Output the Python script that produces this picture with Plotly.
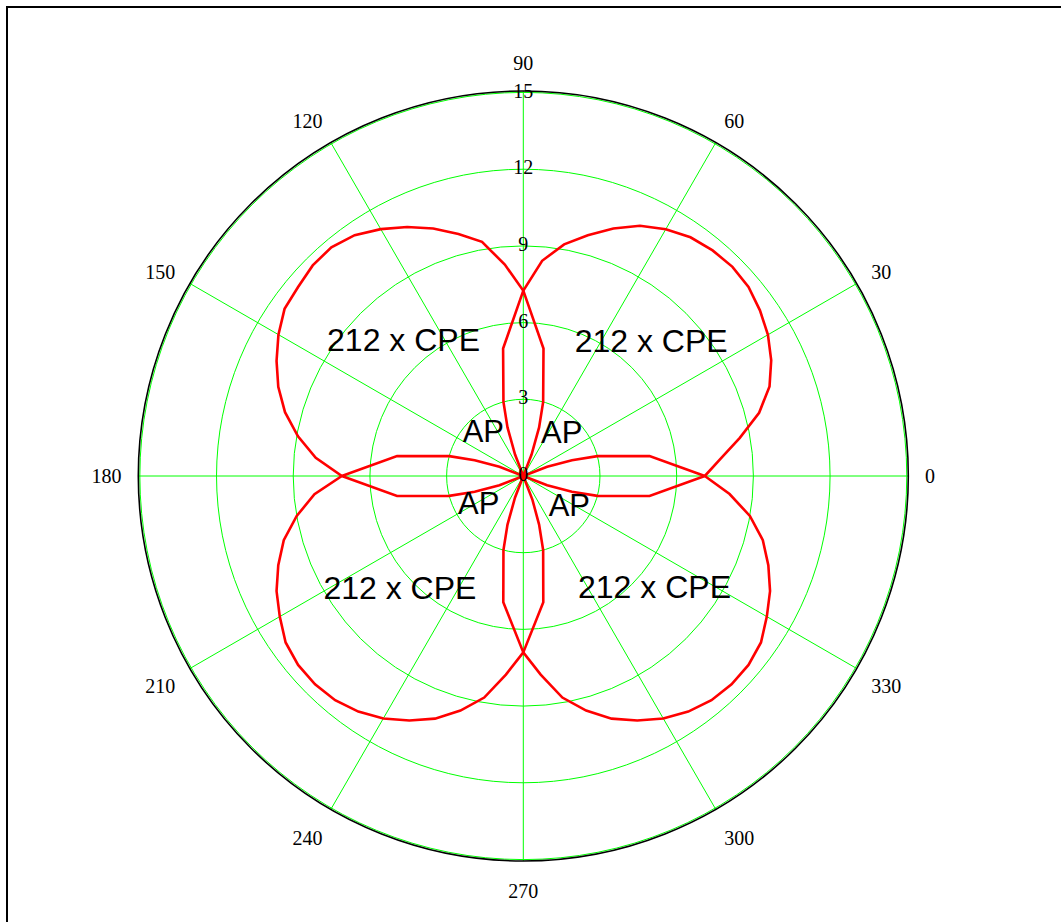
import plotly.graph_objects as go

# CPE coverage pattern, sampled every 5 degrees
cpe_theta = list(range(0, 365, 5))
cpe_r = [
    7.1, 7.75, 8.6, 9.55, 10.25, 10.7, 11.05, 11.3, 11.5, 11.57,
    11.52, 11.4, 11.15, 10.8, 10.3, 9.75, 9.2, 8.45, 7.25,
    8.3, 9.3, 9.8, 10.3, 10.75, 11.15, 11.5, 11.68, 11.65,
    11.5, 11.4, 11.06, 10.65, 10.2, 9.65, 8.95, 8.15, 7.1,
    8.2, 9.0, 9.7, 10.2, 10.65, 11.0, 11.35, 11.5, 11.52,
    11.45, 11.25, 10.95, 10.55, 10.1, 9.5, 8.8, 7.8, 6.9,
    7.8, 8.8, 9.5, 10.1, 10.55, 10.95, 11.25, 11.45, 11.52,
    11.5, 11.35, 11.0, 10.65, 10.2, 9.7, 9.0, 8.1, 7.1,
]

# AP beam pattern (four narrow beams along the axes)
ap_theta = [
    0, 9, 15, 18, 21, 24,
    66, 69, 72, 75, 81, 90, 99, 105, 108, 111, 114,
    156, 159, 162, 165, 171, 180, 189, 195, 198, 201, 204,
    246, 249, 252, 255, 261, 270, 279, 285, 288, 291, 294,
    336, 339, 342, 345, 351, 360,
]
ap_r = [
    7.1, 5.0, 3.0, 2.0, 1.0, 0,
    0, 0.9, 2.0, 3.0, 5.05, 7.25, 5.05, 3.0, 2.0, 0.9, 0,
    0, 1.0, 2.0, 3.0, 5.0, 7.1, 5.0, 3.0, 2.0, 1.0, 0,
    0, 0.9, 2.0, 3.0, 5.0, 6.9, 5.0, 3.0, 2.0, 1.0, 0,
    0, 1.0, 2.0, 3.0, 5.0, 7.1,
]

# Text labels placed in polar coordinates
cpe_label_r = [7.2, 7.0, 6.6, 6.8]
cpe_label_theta = [46, 132, 223, 319]
cpe_label_text = ["212 x CPE"] * 4
ap_label_r = [2.2, 2.25, 2.1, 2.2]
ap_label_theta = [47, 134, 214, 325]
ap_label_text = ["AP"] * 4

# Axis ticks
radial_ticks = [0, 3, 6, 9, 12, 15]
radial_tick_text = ["0", "3", "6", "9", "12", "15"]
angle_ticks = list(range(0, 360, 30))
angle_tick_text = [str(a) for a in angle_ticks]

GREEN = "#00ff00"
RED = "#ff0000"
SERIF = "Liberation Serif, Times New Roman, serif"
SANS = "Liberation Sans, Arial, sans-serif"

fig = go.Figure()

fig.add_trace(go.Scatterpolar(
    r=cpe_r, theta=cpe_theta, mode="lines",
    line=dict(color=RED, width=2.6), name="CPE",
))
fig.add_trace(go.Scatterpolar(
    r=ap_r, theta=ap_theta, mode="lines",
    line=dict(color=RED, width=2.6), name="AP",
))
fig.add_trace(go.Scatterpolar(
    r=radial_ticks, theta=[90] * len(radial_ticks), mode="text",
    text=radial_tick_text, textposition="middle center",
    textfont=dict(family=SERIF, size=20, color="black"),
))
fig.add_trace(go.Scatterpolar(
    r=cpe_label_r, theta=cpe_label_theta, mode="text",
    text=cpe_label_text, textposition="middle center",
    textfont=dict(family=SANS, size=32, color="black"),
))
fig.add_trace(go.Scatterpolar(
    r=ap_label_r, theta=ap_label_theta, mode="text",
    text=ap_label_text, textposition="middle center",
    textfont=dict(family=SANS, size=31, color="black"),
))

W, H = 1061, 922
cx, cy, rad = 523.3, 476.0, 385.0

fig.update_layout(
    width=W, height=H,
    margin=dict(l=0, r=0, t=0, b=0),
    paper_bgcolor="white",
    showlegend=False,
    polar=dict(
        domain=dict(
            x=[(cx - rad) / W, (cx + rad) / W],
            y=[1 - (cy + rad) / H, 1 - (cy - rad) / H],
        ),
        bgcolor="white",
        radialaxis=dict(
            range=[0, 15.06], tickvals=radial_ticks, showticklabels=False,
            ticks="", showline=False, gridcolor=GREEN, gridwidth=1.2,
            angle=90,
        ),
        angularaxis=dict(
            rotation=0, direction="counterclockwise",
            tickvals=angle_ticks, ticktext=angle_tick_text,
            tickfont=dict(family=SERIF, size=20, color="black"),
            ticks="outside", ticklen=12, tickcolor="rgba(0,0,0,0)",
            gridcolor=GREEN, gridwidth=1,
            showline=True, linecolor="black", linewidth=1.6,
        ),
    ),
    shapes=[dict(
        type="rect", xref="paper", yref="paper",
        x0=7 / W, x1=1.1, y0=-0.1, y1=1 - 7 / H,
        line=dict(color="black", width=2), fillcolor="rgba(0,0,0,0)",
    )],
)

fig.write_html("out.html")
